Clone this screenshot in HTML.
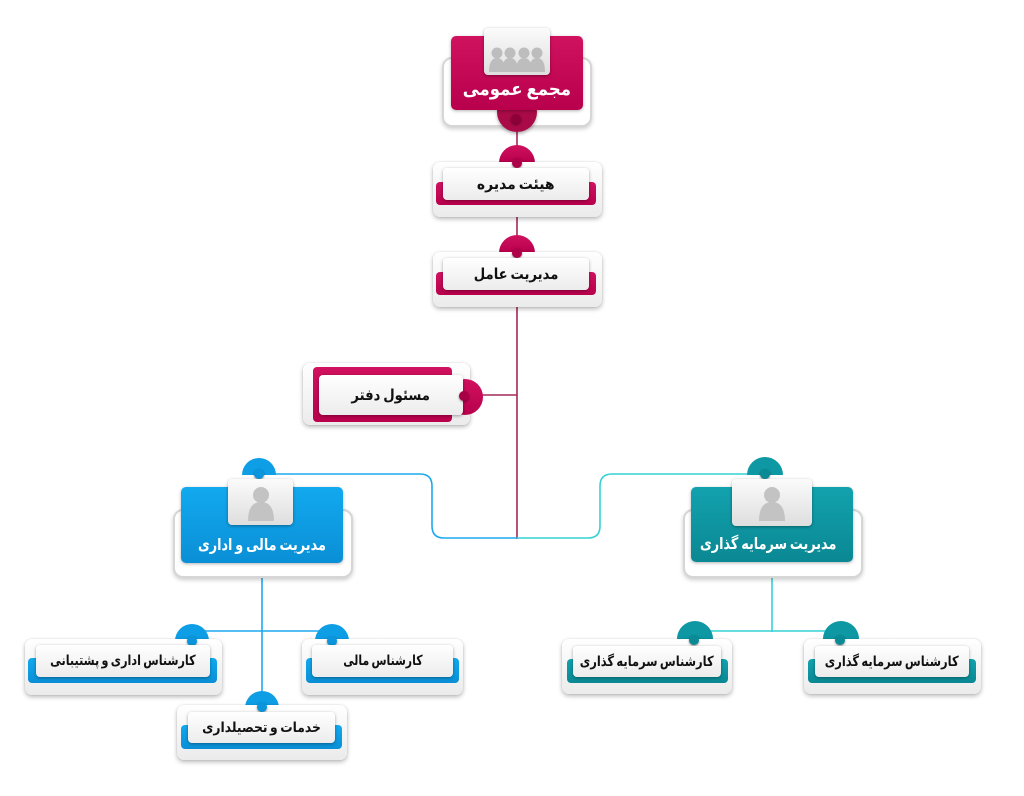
<!DOCTYPE html>
<html><head><meta charset="utf-8">
<style>
html,body{margin:0;padding:0;background:#fff;}
#c{position:relative;width:1024px;height:796px;overflow:hidden;background:#fff;font-family:"DejaVu Sans","Liberation Sans",sans-serif;}
.a{position:absolute;}
.card{position:absolute;background:linear-gradient(#ffffff,#ebebeb);border-radius:7px;box-shadow:0 2px 5px rgba(0,0,0,.28),0 0 1px rgba(0,0,0,.2);}
.bar{position:absolute;border-radius:4px;}
.lbl{position:absolute;background:linear-gradient(#ffffff,#ececec);border-radius:4px;box-shadow:0 1px 3px rgba(0,0,0,.35);display:flex;align-items:center;justify-content:center;font-weight:bold;font-size:14px;color:#111;direction:rtl;white-space:nowrap;}
.s{display:inline-block;word-spacing:-2px;}
.semi{position:absolute;border-radius:40px 40px 0 0;}
.dot{position:absolute;width:12px;height:12px;border-radius:50%;box-shadow:0 1px 2px rgba(0,0,0,.45);}
.frame{position:absolute;background:#fff;border:2px solid #d6d6d6;border-radius:10px;box-shadow:0 2px 4px rgba(0,0,0,.2);}
.box{position:absolute;border-radius:5px;box-shadow:0 1px 3px rgba(0,0,0,.3);}
.icon{position:absolute;background:linear-gradient(#fbfbfb,#dedede);border-radius:4px;box-shadow:0 1px 3px rgba(0,0,0,.35);overflow:hidden;}
.t{position:absolute;color:#fff;font-weight:bold;direction:rtl;white-space:nowrap;text-align:center;}
.crim{background:linear-gradient(#d0125f,#b8004c);}
.blue{background:linear-gradient(#12a9ef,#0a8fd6);}
.teal{background:linear-gradient(#12a2ae,#0a8893);}
</style></head><body>
<div id="c">
<svg class="a" style="left:0;top:0" width="1024" height="796">
 <g fill="none" stroke-width="1.6">
  <line x1="517" y1="110" x2="517" y2="163" stroke="#a3285a"/>
  <line x1="517" y1="200" x2="517" y2="253" stroke="#a3285a"/>
  <line x1="517" y1="300" x2="517" y2="539" stroke="#a3285a"/>
  <line x1="470" y1="395" x2="517" y2="395" stroke="#a3285a"/>
  <path d="M265 474 H420 Q432 474 432 486 V526 Q432 538 444 538 H517" stroke="#1da8ee"/>
  <path d="M517 538 H588 Q600 538 600 526 V486 Q600 474 612 474 H765" stroke="#35d2d5"/>
  <line x1="262" y1="577" x2="262" y2="705" stroke="#1da8ee"/>
  <line x1="192" y1="631" x2="332" y2="631" stroke="#1da8ee"/>
  <line x1="772" y1="577" x2="772" y2="632" stroke="#35d2d5"/>
  <line x1="695" y1="631" x2="841" y2="631" stroke="#35d2d5"/>
 </g>
</svg>

<!-- top node -->
<div class="frame" style="left:442px;top:57px;width:146px;height:66px;"></div>
<div class="a" style="left:497px;top:92px;width:40px;height:40px;border-radius:50%;background:#aa0a47;box-shadow:0 2px 3px rgba(0,0,0,.3)"></div>
<div class="dot" style="left:511px;top:114px;width:10px;height:10px;background:#8e0038"></div>
<div class="box crim" style="left:451px;top:36px;width:132px;height:74px;"></div>
<div class="icon" style="left:484px;top:28px;width:66px;height:47px;">
 <svg width="66" height="47">
  <g fill="#bdbdbd">
   <circle cx="13" cy="25" r="5.5"/><path d="M5 44 Q5 30 13 30 Q21 30 21 44Z"/>
   <circle cx="26" cy="25" r="5.5"/><path d="M18 44 Q18 30 26 30 Q34 30 34 44Z"/>
   <circle cx="40" cy="25" r="5.5"/><path d="M32 44 Q32 30 40 30 Q48 30 48 44Z"/>
   <circle cx="53" cy="25" r="5.5"/><path d="M45 44 Q45 30 53 30 Q61 30 61 44Z"/>
  </g>
 </svg>
</div>
<div class="t" style="left:451px;top:79px;width:132px;font-size:18px;"><span class="s" style="transform:scaleX(.92)">مجمع عمومی</span></div>

<!-- هیئت مدیره -->
<div class="semi crim" style="left:499px;top:145px;width:36px;height:18px;"></div>
<div class="card" style="left:433px;top:162px;width:169px;height:55px;"></div>
<div class="bar crim" style="left:436px;top:182px;width:160px;height:23px;"></div>
<div class="dot" style="left:512px;top:158px;width:10px;height:10px;background:#b0004a"></div>
<div class="lbl" style="left:443px;top:168px;width:146px;height:32px;font-size:15px;"><span class="s" style="transform:scaleX(.93)">هیئت مدیره</span></div>

<!-- مدیریت عامل -->
<div class="semi crim" style="left:499px;top:235px;width:36px;height:18px;"></div>
<div class="card" style="left:433px;top:252px;width:169px;height:55px;"></div>
<div class="bar crim" style="left:436px;top:272px;width:160px;height:23px;"></div>
<div class="dot" style="left:512px;top:248px;width:10px;height:10px;background:#b0004a"></div>
<div class="lbl" style="left:443px;top:258px;width:146px;height:32px;font-size:15px;"><span class="s" style="transform:scaleX(.88)">مدیریت عامل</span></div>

<!-- مسئول دفتر -->
<div class="card" style="left:303px;top:363px;width:167px;height:62px;"></div>
<div class="a crim" style="left:447px;top:379px;width:36px;height:36px;border-radius:50%;"></div>
<div class="bar crim" style="left:313px;top:367px;width:139px;height:55px;"></div>
<div class="lbl" style="left:319px;top:375px;width:144px;height:40px;font-size:15px;"><span class="s" style="transform:scaleX(.88)">مسئول دفتر</span></div>
<div class="dot" style="left:459px;top:391px;width:10px;height:10px;background:#a80044"></div>

<!-- مدیریت مالی و اداری -->
<div class="frame" style="left:173px;top:509px;width:176px;height:65px;"></div>
<div class="semi blue" style="left:242px;top:458px;width:34px;height:17px;background:#0e9ee6"></div>
<div class="box blue" style="left:181px;top:487px;width:162px;height:76px;"></div>
<div class="dot" style="left:254px;top:469px;width:10px;height:10px;background:#0a95dd"></div>
<div class="icon" style="left:228px;top:479px;width:65px;height:46px;">
 <svg width="65" height="46"><g fill="#c3c3c3"><circle cx="33" cy="16" r="8"/><path d="M20 42 Q20 23 33 23 Q46 23 46 42Z"/></g></svg>
</div>
<div class="t" style="left:181px;top:535px;width:162px;font-size:16px;"><span class="s" style="transform:scaleX(.8)">مدیریت مالی و اداری</span></div>

<!-- مدیریت سرمایه گذاری -->
<div class="frame" style="left:683px;top:509px;width:176px;height:65px;"></div>
<div class="semi teal" style="left:747px;top:457px;width:36px;height:18px;background:#0e98a4"></div>
<div class="box teal" style="left:691px;top:487px;width:162px;height:75px;"></div>
<div class="dot" style="left:760px;top:469px;width:10px;height:10px;background:#0a8a95"></div>
<div class="icon" style="left:732px;top:479px;width:80px;height:47px;">
 <svg width="80" height="47"><g fill="#c3c3c3"><circle cx="40" cy="16" r="8"/><path d="M27 42 Q27 23 40 23 Q53 23 53 42Z"/></g></svg>
</div>
<div class="t" style="left:691px;top:534px;width:162px;font-size:16px;"><span class="s" style="transform:scaleX(.8)">مدیریت سرمایه گذاری</span></div>

<!-- کارشناس اداری و پشتیبانی -->
<div class="semi blue" style="left:175px;top:624px;width:34px;height:17px;background:#0e9ee6"></div>
<div class="card" style="left:25px;top:639px;width:197px;height:56px;"></div>
<div class="bar blue" style="left:28px;top:658px;width:189px;height:25px;"></div>
<div class="dot" style="left:187px;top:636px;width:10px;height:10px;background:#0a95dd"></div>
<div class="lbl" style="left:36px;top:645px;width:174px;height:32px;"><span class="s" style="transform:scaleX(.8)">کارشناس اداری و پشتیبانی</span></div>

<!-- کارشناس مالی -->
<div class="semi blue" style="left:315px;top:624px;width:34px;height:17px;background:#0e9ee6"></div>
<div class="card" style="left:302px;top:639px;width:161px;height:56px;"></div>
<div class="bar blue" style="left:306px;top:658px;width:153px;height:25px;"></div>
<div class="dot" style="left:327px;top:636px;width:10px;height:10px;background:#0a95dd"></div>
<div class="lbl" style="left:312px;top:645px;width:141px;height:32px;"><span class="s" style="transform:scaleX(.78)">کارشناس مالی</span></div>

<!-- خدمات و تحصیلداری -->
<div class="semi blue" style="left:245px;top:691px;width:34px;height:17px;background:#0e9ee6"></div>
<div class="card" style="left:177px;top:705px;width:170px;height:55px;"></div>
<div class="bar blue" style="left:181px;top:725px;width:161px;height:24px;"></div>
<div class="dot" style="left:257px;top:702px;width:10px;height:10px;background:#0a95dd"></div>
<div class="lbl" style="left:188px;top:712px;width:147px;height:31px;"><span class="s" style="transform:scaleX(.88)">خدمات و تحصیلداری</span></div>

<!-- کارشناس سرمایه گذاری 1 -->
<div class="semi teal" style="left:677px;top:621px;width:36px;height:18px;background:#0e98a4"></div>
<div class="card" style="left:562px;top:639px;width:170px;height:55px;"></div>
<div class="bar teal" style="left:567px;top:659px;width:161px;height:24px;"></div>
<div class="dot" style="left:689px;top:635px;width:10px;height:10px;background:#0a8a95"></div>
<div class="lbl" style="left:573px;top:646px;width:148px;height:31px;"><span class="s" style="transform:scaleX(.82)">کارشناس سرمایه گذاری</span></div>

<!-- کارشناس سرمایه گذاری 2 -->
<div class="semi teal" style="left:823px;top:621px;width:36px;height:18px;background:#0e98a4"></div>
<div class="card" style="left:804px;top:639px;width:177px;height:55px;"></div>
<div class="bar teal" style="left:808px;top:659px;width:168px;height:24px;"></div>
<div class="dot" style="left:835px;top:635px;width:10px;height:10px;background:#0a8a95"></div>
<div class="lbl" style="left:815px;top:646px;width:154px;height:31px;"><span class="s" style="transform:scaleX(.82)">کارشناس سرمایه گذاری</span></div>
</div>
</body></html>
